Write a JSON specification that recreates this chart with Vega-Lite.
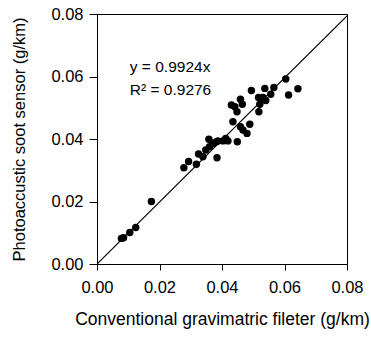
{
  "$schema": "https://vega.github.io/schema/vega-lite/v6.json",
  "width": 250,
  "height": 250,
  "autosize": "none",
  "padding": {"left": 97, "top": 14, "right": 24, "bottom": 76},
  "background": "white",
  "config": {
    "view": {"stroke": "black", "strokeWidth": 1},
    "font": "Liberation Sans",
    "axis": {"grid": false, "labelFlush": false, "labelOverlap": false, "domainColor": "black", "tickColor": "black", "labelColor": "black", "titleColor": "black", "labelFont": "Liberation Sans", "titleFont": "Liberation Sans", "titleFontWeight": "normal", "labelFontSize": 16.5, "titleFontSize": 17}
  },
  "datasets": {
    "points": [
      {"x": 0.0078, "y": 0.0082}, {"x": 0.0085, "y": 0.0084}, {"x": 0.0105, "y": 0.0101}, {"x": 0.0124, "y": 0.0117},
      {"x": 0.0174, "y": 0.0200}, {"x": 0.0278, "y": 0.0308}, {"x": 0.0293, "y": 0.0328}, {"x": 0.0318, "y": 0.0319},
      {"x": 0.0325, "y": 0.0352}, {"x": 0.0339, "y": 0.0343}, {"x": 0.0348, "y": 0.0365}, {"x": 0.0358, "y": 0.0399},
      {"x": 0.0360, "y": 0.0375}, {"x": 0.0371, "y": 0.0386}, {"x": 0.0382, "y": 0.0391}, {"x": 0.0384, "y": 0.0340},
      {"x": 0.0387, "y": 0.0394}, {"x": 0.0403, "y": 0.0394}, {"x": 0.0412, "y": 0.0402}, {"x": 0.0419, "y": 0.0394},
      {"x": 0.0435, "y": 0.0455}, {"x": 0.0430, "y": 0.0509}, {"x": 0.0441, "y": 0.0503}, {"x": 0.0448, "y": 0.0487},
      {"x": 0.0449, "y": 0.0391}, {"x": 0.0459, "y": 0.0527}, {"x": 0.0465, "y": 0.0511}, {"x": 0.0459, "y": 0.0439},
      {"x": 0.0467, "y": 0.0429}, {"x": 0.0480, "y": 0.0418}, {"x": 0.0489, "y": 0.0447}, {"x": 0.0494, "y": 0.0555},
      {"x": 0.0518, "y": 0.0487}, {"x": 0.0521, "y": 0.0511}, {"x": 0.0517, "y": 0.0533}, {"x": 0.0531, "y": 0.0533},
      {"x": 0.0537, "y": 0.0562}, {"x": 0.0540, "y": 0.0523}, {"x": 0.0556, "y": 0.0543}, {"x": 0.0566, "y": 0.0565},
      {"x": 0.0604, "y": 0.0592}, {"x": 0.0613, "y": 0.0541}, {"x": 0.0643, "y": 0.0561}
    ],
    "fit": [{"x": 0, "y": 0}, {"x": 0.08, "y": 0.0794}],
    "labels": [
      {"x": 0.0105, "y": 0.0630, "t": "y = 0.9924x"},
      {"x": 0.0105, "y": 0.0557, "t": "R² = 0.9276"}
    ]
  },
  "layer": [
    {
      "data": {"name": "fit"},
      "mark": {"type": "line", "color": "black", "strokeWidth": 1.2, "clip": true},
      "encoding": {
        "x": {"field": "x", "type": "quantitative", "scale": {"domain": [0, 0.08], "nice": false},
          "axis": {"title": "Conventional gravimatric fileter (g/km)", "titleFontSize": 17.5, "values": [0, 0.02, 0.04, 0.06, 0.08], "format": ".2f", "tickSize": 6, "labelPadding": 9, "titlePadding": 15}},
        "y": {"field": "y", "type": "quantitative", "scale": {"domain": [0, 0.08], "nice": false},
          "axis": {"title": "Photoaccustic soot sensor (g/km)", "titleFontSize": 16.5, "values": [0, 0.02, 0.04, 0.06, 0.08], "format": ".2f", "tickSize": 8, "labelPadding": 6, "titlePadding": 23}}
      }
    },
    {
      "data": {"name": "points"},
      "mark": {"type": "circle", "color": "black", "opacity": 1, "size": 55},
      "encoding": {
        "x": {"field": "x", "type": "quantitative"},
        "y": {"field": "y", "type": "quantitative"}
      }
    },
    {
      "data": {"name": "labels"},
      "mark": {"type": "text", "align": "left", "baseline": "middle", "fontSize": 15.5, "color": "black", "font": "Liberation Sans"},
      "encoding": {
        "x": {"field": "x", "type": "quantitative"},
        "y": {"field": "y", "type": "quantitative"},
        "text": {"field": "t"}
      }
    }
  ]
}
